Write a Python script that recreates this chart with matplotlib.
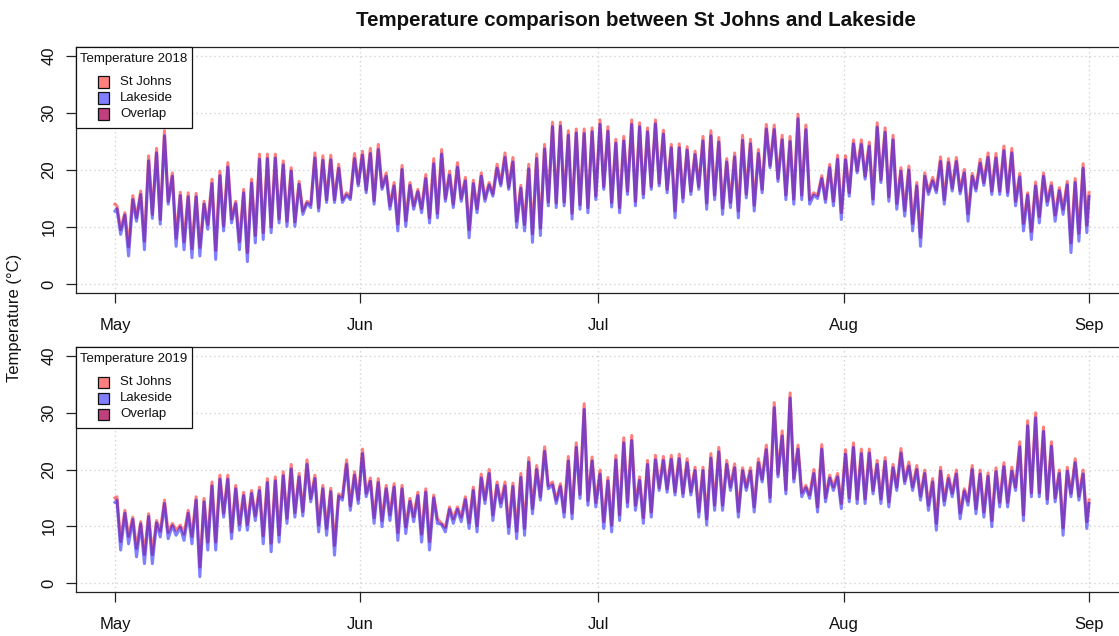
import numpy as np
import matplotlib
matplotlib.use("Agg")
import matplotlib.pyplot as plt
import matplotlib.dates as mdates
from matplotlib.patches import Rectangle

plt.rcParams['font.family'] = ['Liberation Sans', 'DejaVu Sans']

# ---------------- data (daily highs / lows, deg C) ----------------
month_labels = ['May', 'Jun', 'Jul', 'Aug', 'Sep']
month_starts = ['05-01', '06-01', '07-01', '08-01', '09-01']
series_names = ['St Johns', 'Lakeside', 'Overlap']

sj18_start, lk18_start, sj18_end, lk18_end = 14.0, 12.8, 16.0, 15.3
sj18_high = [13.7, 12.5, 15.5, 16.3, 22.5, 23.8, 26.9, 19.5, 16.1, 16.0, 15.9, 14.5, 18.4, 19.8, 21.3, 14.5,
             16.6, 18.4, 22.8, 22.8, 22.8, 21.6, 20.4, 18.0, 14.5, 23.0, 22.5, 22.6, 21.0, 16.0, 22.9, 23.3,
             23.8, 24.5, 19.5, 17.8, 20.8, 17.8, 16.6, 19.2, 22.0, 23.6, 19.8, 21.3, 18.7, 18.2, 19.5, 17.8,
             21.0, 23.0, 22.2, 17.3, 21.0, 22.8, 24.5, 28.4, 28.4, 26.9, 27.2, 27.2, 27.4, 28.8, 27.6, 25.4,
             25.9, 28.8, 28.3, 27.4, 28.8, 27.0, 24.5, 24.6, 24.1, 23.3, 25.9, 26.9, 25.7, 22.0, 23.0, 26.1,
             25.4, 23.6, 28.0, 27.9, 26.1, 25.9, 29.8, 27.9, 16.0, 19.0, 21.0, 22.6, 22.5, 25.3, 25.3, 24.9,
             28.3, 27.4, 26.1, 20.4, 20.7, 17.8, 19.5, 18.7, 22.3, 22.0, 22.2, 20.1, 19.4, 21.9, 23.0, 22.9,
             24.2, 23.8, 19.4, 16.0, 17.9, 19.5, 17.8, 16.9, 18.0, 18.5, 21.1]
lk18_high = [13.2, 12.1, 14.8, 15.7, 21.6, 23.0, 26.0, 18.9, 15.5, 15.3, 15.3, 14.0, 17.6, 19.0, 20.5, 14.1,
             16.0, 17.7, 21.9, 22.0, 22.1, 20.9, 19.8, 17.5, 14.2, 22.1, 21.7, 21.8, 20.3, 15.6, 22.0, 22.6,
             22.9, 23.6, 18.9, 17.2, 20.1, 17.3, 16.2, 18.5, 21.1, 22.8, 19.1, 20.5, 18.1, 17.6, 18.9, 17.4,
             20.3, 22.2, 21.4, 16.8, 20.2, 22.0, 23.7, 27.6, 27.7, 26.1, 26.5, 26.4, 26.7, 28.0, 26.8, 24.7,
             25.1, 28.0, 27.6, 26.7, 28.1, 26.3, 23.9, 23.9, 23.5, 22.7, 25.1, 26.0, 24.9, 21.4, 22.3, 25.2,
             24.6, 22.9, 27.2, 27.1, 25.3, 25.0, 29.0, 27.1, 15.6, 18.5, 20.4, 21.9, 21.8, 24.6, 24.5, 24.2,
             27.5, 26.6, 25.3, 19.8, 20.0, 17.2, 18.9, 18.1, 21.5, 21.3, 21.5, 19.5, 18.9, 21.2, 22.2, 22.1,
             23.4, 23.0, 18.8, 15.6, 17.2, 18.9, 17.2, 16.4, 17.4, 17.8, 20.3]
sj18_low = [9.5, 6.5, 11.6, 7.5, 12.2, 11.3, 14.5, 8.0, 7.4, 6.2, 6.4, 10.4, 5.9, 10.2, 11.4, 7.4,
            5.5, 8.5, 9.0, 10.0, 11.4, 11.0, 10.9, 12.8, 13.9, 13.4, 14.8, 14.8, 14.8, 15.2, 17.6, 16.5,
            14.6, 17.0, 13.7, 10.5, 11.1, 13.7, 13.2, 11.6, 12.4, 15.0, 14.0, 15.0, 9.5, 13.2, 15.0, 15.8,
            17.6, 17.0, 11.0, 10.4, 8.8, 9.8, 14.4, 14.2, 14.4, 12.4, 13.9, 13.4, 15.4, 17.1, 14.3, 13.4,
            16.3, 14.5, 15.8, 17.1, 17.7, 16.6, 12.8, 15.1, 16.3, 17.1, 14.2, 15.6, 13.3, 14.3, 12.8, 15.8,
            13.8, 16.6, 20.8, 18.5, 15.6, 14.9, 15.6, 14.8, 15.5, 14.9, 14.5, 12.5, 16.0, 19.9, 18.9, 14.9,
            18.3, 15.3, 14.1, 12.9, 10.6, 8.2, 16.2, 16.5, 14.8, 16.8, 16.3, 12.3, 16.8, 17.8, 16.3, 16.3,
            16.1, 14.5, 10.6, 9.2, 11.8, 14.5, 12.1, 13.1, 7.2, 8.9, 10.3]
lk18_low = [8.7, 4.9, 11.0, 6.0, 11.5, 10.5, 14.0, 6.6, 6.0, 4.6, 4.9, 9.6, 4.3, 9.3, 10.7, 6.0,
            3.9, 7.2, 7.8, 9.0, 10.7, 10.1, 10.1, 12.2, 13.4, 12.8, 14.3, 14.3, 14.3, 14.8, 17.2, 16.0,
            14.0, 16.6, 13.1, 9.3, 10.1, 13.1, 12.5, 10.7, 11.6, 14.5, 13.4, 14.5, 8.1, 12.5, 14.5, 15.4,
            17.2, 16.6, 9.9, 9.3, 7.3, 8.5, 13.7, 13.4, 13.7, 11.4, 13.1, 12.5, 14.8, 16.6, 13.5, 12.5,
            15.7, 13.7, 15.1, 16.6, 17.2, 16.0, 11.6, 14.4, 15.7, 16.6, 13.1, 14.8, 12.2, 13.4, 11.6, 15.1,
            12.8, 16.0, 20.4, 18.0, 14.8, 14.0, 14.8, 14.0, 15.0, 14.3, 13.7, 11.3, 15.4, 19.5, 18.4, 14.0,
            17.8, 14.5, 13.1, 11.9, 9.3, 6.6, 15.7, 16.0, 14.0, 16.3, 15.8, 11.0, 16.3, 17.3, 15.7, 15.7,
            15.5, 13.7, 9.3, 7.8, 10.7, 13.8, 11.0, 12.2, 5.5, 7.5, 9.0]

sj19_start, lk19_start, sj19_end, lk19_end = 15.0, 14.2, 14.6, 14.0
sj19_high = [15.2, 12.8, 11.6, 10.8, 12.2, 11.0, 14.6, 10.5, 10.2, 12.8, 15.2, 14.9, 17.8, 19.0, 19.0, 17.2,
             16.0, 16.3, 16.9, 18.4, 18.7, 19.6, 20.9, 19.3, 21.7, 19.0, 17.2, 16.7, 15.7, 21.7, 19.6, 23.6,
             18.5, 18.4, 17.2, 17.5, 17.2, 14.9, 16.0, 16.6, 15.5, 10.5, 13.4, 13.4, 15.2, 16.9, 19.2, 20.0,
             17.8, 17.8, 17.6, 19.3, 22.1, 20.7, 24.0, 17.8, 17.5, 22.3, 24.7, 31.6, 22.2, 19.9, 18.6, 22.5,
             25.6, 26.0, 18.7, 21.6, 22.5, 22.3, 22.5, 22.7, 21.9, 20.4, 20.4, 22.8, 23.9, 21.6, 21.0, 20.3,
             20.3, 21.9, 24.3, 31.8, 26.8, 33.5, 24.3, 17.2, 20.0, 24.4, 19.0, 19.3, 23.5, 24.7, 23.6, 23.6,
             21.6, 22.1, 20.9, 23.7, 21.3, 20.7, 19.9, 18.4, 20.4, 19.0, 19.9, 16.6, 20.7, 19.9, 19.4, 20.3,
             21.2, 20.4, 24.9, 28.6, 30.0, 27.5, 24.9, 19.9, 20.4, 21.9, 19.9]
lk19_high = [14.6, 12.3, 11.2, 10.4, 11.7, 10.6, 14.0, 10.1, 9.8, 12.3, 14.6, 14.3, 17.1, 18.3, 18.3, 16.6,
             15.4, 15.8, 16.3, 17.7, 18.0, 18.9, 20.1, 18.7, 20.9, 18.4, 16.6, 16.1, 15.3, 20.9, 19.0, 22.8,
             17.9, 17.7, 16.6, 16.9, 16.6, 14.4, 15.4, 16.0, 15.0, 10.3, 13.0, 13.0, 14.7, 16.3, 18.5, 19.3,
             17.2, 17.1, 17.0, 18.6, 21.3, 20.0, 23.2, 17.3, 17.0, 21.5, 23.9, 30.6, 21.5, 19.2, 18.0, 21.7,
             24.7, 25.1, 18.1, 20.9, 21.7, 21.6, 21.8, 21.9, 21.2, 19.8, 19.8, 22.0, 23.1, 20.9, 20.3, 19.8,
             19.7, 21.2, 23.5, 30.9, 25.9, 32.6, 23.6, 16.8, 19.3, 23.6, 18.5, 18.7, 22.7, 23.9, 22.8, 22.9,
             20.9, 21.4, 20.3, 22.9, 20.6, 20.0, 19.3, 17.8, 19.7, 18.4, 19.2, 16.2, 20.0, 19.2, 18.8, 19.6,
             20.5, 19.7, 24.0, 27.7, 29.1, 26.7, 24.1, 19.3, 19.7, 21.2, 19.2]
sj19_low = [7.3, 8.2, 6.1, 5.0, 5.0, 9.1, 8.9, 9.3, 8.6, 8.2, 2.8, 7.2, 7.2, 12.3, 9.0, 10.3,
            10.3, 11.8, 8.3, 7.0, 8.5, 11.4, 12.4, 12.6, 14.9, 10.2, 9.6, 6.6, 15.1, 13.6, 14.7, 15.8,
            11.5, 11.0, 12.0, 8.9, 9.9, 11.7, 8.6, 7.3, 11.3, 9.8, 11.3, 11.6, 10.6, 10.1, 14.7, 12.0,
            14.1, 9.9, 9.1, 9.6, 13.1, 15.2, 17.1, 14.6, 12.5, 12.3, 15.6, 14.5, 14.2, 10.8, 10.2, 12.0,
            14.2, 13.7, 11.5, 12.5, 16.8, 16.6, 16.1, 15.8, 16.1, 12.6, 11.3, 13.7, 13.7, 16.9, 12.6, 16.9,
            13.4, 18.3, 15.1, 19.2, 16.4, 18.4, 15.9, 15.5, 13.4, 15.0, 16.9, 14.0, 15.0, 14.8, 14.8, 16.3,
            14.8, 14.3, 16.9, 18.0, 16.9, 15.3, 13.7, 10.5, 14.5, 15.8, 12.3, 14.4, 13.1, 12.5, 11.0, 14.2,
            14.2, 16.9, 12.0, 15.9, 15.9, 14.8, 15.0, 9.7, 15.8, 15.3, 10.8]
lk19_low = [5.8, 6.9, 4.6, 3.4, 3.4, 8.1, 7.8, 8.4, 7.5, 6.9, 1.1, 5.8, 5.8, 11.6, 7.8, 9.3,
            9.3, 11.0, 6.9, 5.5, 7.2, 10.5, 11.6, 11.8, 14.3, 9.0, 8.4, 4.9, 14.6, 12.8, 14.0, 15.2,
            10.5, 9.9, 11.0, 7.5, 8.7, 10.8, 7.2, 5.8, 10.5, 9.0, 10.5, 10.8, 9.6, 9.0, 14.0, 11.0,
            13.4, 8.7, 7.8, 8.4, 12.2, 14.6, 16.6, 14.0, 11.6, 11.3, 14.9, 13.7, 13.4, 9.6, 9.0, 11.0,
            13.4, 12.8, 10.5, 11.6, 16.3, 16.0, 15.5, 15.2, 15.5, 11.6, 10.2, 12.8, 12.8, 16.3, 11.6, 16.3,
            12.5, 17.8, 14.3, 18.7, 15.7, 17.8, 15.2, 14.9, 12.5, 14.3, 16.3, 13.1, 14.3, 14.0, 14.0, 15.7,
            14.0, 13.4, 16.3, 17.5, 16.3, 14.6, 12.8, 9.3, 13.7, 15.2, 11.3, 13.7, 12.2, 11.6, 9.9, 13.4,
            13.4, 16.3, 11.0, 15.2, 15.2, 14.0, 14.3, 8.4, 15.2, 14.6, 9.6]

# time of day (fraction of a day) where the daily high / low occurs in the records
PEAK_FRAC, TROUGH_FRAC = 0.25, 0.72


def build(year, start, highs, lows, end):
    base = np.datetime64(f'{year}-05-01T00:00')
    offs, vals = [0.0], [start]
    for d, (h, l) in enumerate(zip(highs, lows)):
        offs += [d + PEAK_FRAC, d + TROUGH_FRAC]
        vals += [h, l]
    offs.append(float(len(highs)))
    vals.append(end)
    mins = np.round(np.array(offs) * 1440).astype('int64').astype('timedelta64[m]')
    return base + mins, np.array(vals)


W, H = 1119, 636
fig = plt.figure(figsize=(W / 100, H / 100), dpi=100)


def fx(x):
    return x / W


def fy(y):
    return 1 - y / H


panels = [
    (2018, (sj18_start, sj18_high, sj18_low, sj18_end), (lk18_start, lk18_high, lk18_low, lk18_end), 47, 293),
    (2019, (sj19_start, sj19_high, sj19_low, sj19_end), (lk19_start, lk19_high, lk19_low, lk19_end), 347, 592),
]

col_sj = (1.0, 0.0, 0.0, 0.5)
col_lk = (0.0, 0.0, 1.0, 0.5)
leg_cols = ['#FF7F7F', '#7F7FFF', '#BF3F7F']

for year, sj, lk, top, bot in panels:
    ax = fig.add_axes([fx(76), fy(bot), fx(1128) - fx(76), (bot - top) / H])
    t1, v1 = build(year, *sj)
    t2, v2 = build(year, *lk)
    ax.plot(t1, v1, color=col_sj, lw=2.2, solid_joinstyle='round', zorder=3)
    ax.plot(t2, v2, color=col_lk, lw=2.2, solid_joinstyle='round', zorder=4)

    base = np.datetime64(f'{year}-05-01')
    ticks = [np.datetime64(f'{year}-{m}') for m in month_starts]
    span = 123
    ax.set_xlim(mdates.date2num(base) - 0.04 * span, mdates.date2num(base) + 1.04 * span)
    ax.set_ylim(-1.6, 41.6)
    ax.set_xticks(mdates.date2num(ticks))
    ax.set_xticklabels(month_labels)
    ax.set_yticks([0, 10, 20, 30, 40])
    ax.set_yticklabels(['0', '10', '20', '30', '40'], rotation=90, va='center')
    ax.tick_params(axis='both', direction='out', length=7, width=0.9, color='#222222',
                   labelsize=12, labelcolor='#111111')
    ax.tick_params(axis='x', pad=11)
    ax.tick_params(axis='y', pad=7)
    for s in ax.spines.values():
        s.set_color('#222222')
        s.set_linewidth(0.9)
    ax.grid(True, color='#D3D3D3', linestyle=(0, (1, 2.2)), linewidth=1.0)
    ax.set_axisbelow(True)

    # legend box (R style)
    fig.add_artist(Rectangle((fx(76), fy(top + 81)), fx(116), 81 / H, transform=fig.transFigure,
                             facecolor='white', edgecolor='#111111', lw=0.9, zorder=5))
    fig.text(fx(134), fy(top + 12), f'Temperature {year}', ha='center', va='center',
             fontsize=9.5, color='#111111', zorder=6)
    for i, (name, c) in enumerate(zip(series_names, leg_cols)):
        yc = top + 35 + 16 * i
        fig.add_artist(Rectangle((fx(98), fy(yc + 5.5)), fx(11), 11 / H, transform=fig.transFigure,
                                 facecolor=c, edgecolor='#111111', lw=0.9, zorder=6))
        fig.text(fx(120), fy(yc), name, ha='left', va='center', fontsize=9.5, color='#111111', zorder=6)

fig.text(fx(636), fy(20), 'Temperature comparison between St Johns and Lakeside', ha='center', va='center',
         fontsize=14.8, fontweight='bold', color='#111111')
fig.text(fx(15), fy(318), 'Temperature (°C)', ha='center', va='center', rotation=90,
         fontsize=12, color='#111111')

fig.savefig('out.png', dpi=100)
